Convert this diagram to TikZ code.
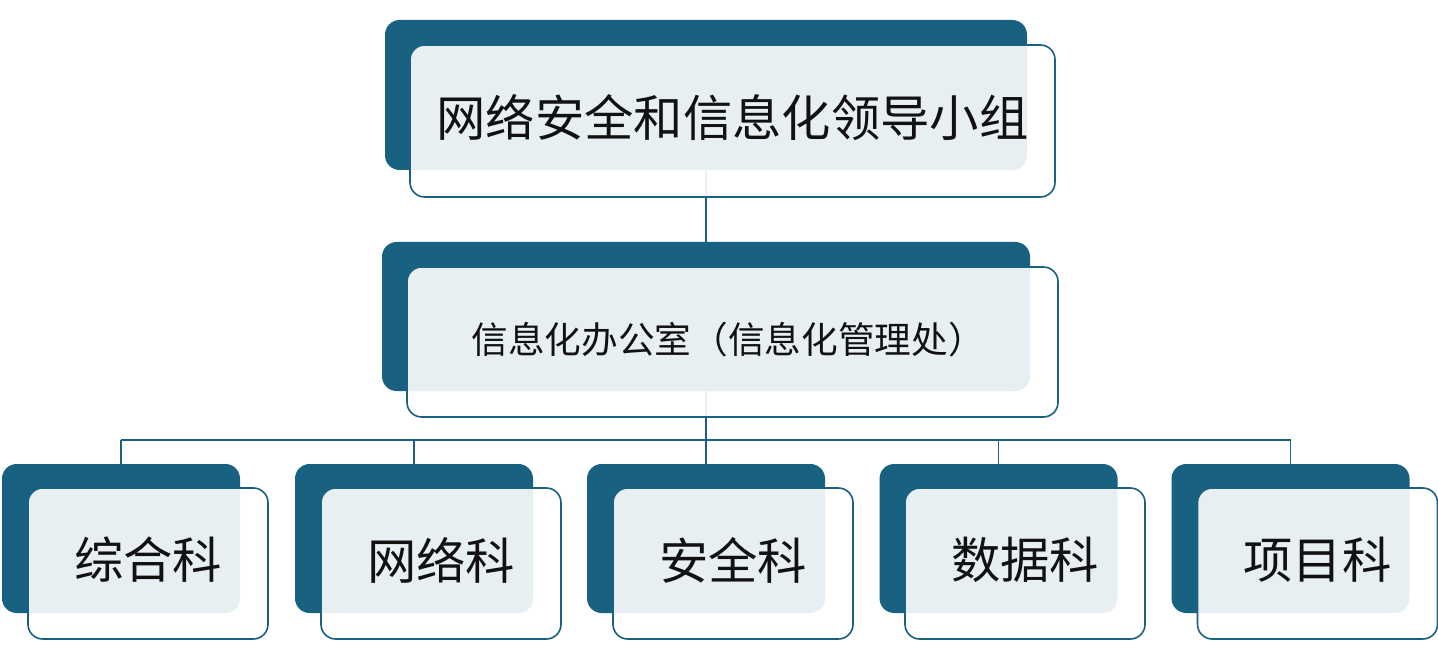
\documentclass[tikz,border=0pt]{standalone}
\usepackage{fontspec}
\newfontfamily\cjk{Noto Sans CJK SC}
\definecolor{tealdark}{RGB}{24,97,128}
\definecolor{txtcol}{RGB}{17,17,17}
\pgfdeclarelayer{bg}
\pgfsetlayers{bg,main}
\begin{document}
\begin{tikzpicture}[x=0.75pt,y=-0.75pt,
  darkbox/.style={fill=tealdark,draw=none,rounded corners=11pt,inner sep=0pt},
  lightbox/.style={fill=white,fill opacity=0.9,draw=tealdark,line width=1.2pt,rounded corners=11pt,inner sep=0pt},
  bigtxt/.style={font=\cjk\fontsize{37pt}{40pt}\selectfont,text=txtcol,inner sep=0pt},
  midtxt/.style={font=\cjk\fontsize{27.5pt}{30pt}\selectfont,text=txtcol,inner sep=0pt},
  conn/.style={draw=tealdark,line width=1.2pt}]
\useasboundingbox (0,0) rectangle (1438,659);
% top
\node[darkbox,minimum width=481.5pt,minimum height=112.5pt] (d0) at (706,95) {};
\node[lightbox,minimum width=483.75pt,minimum height=114pt] (l0) at (732.5,121) {};
\node[bigtxt] (t0) at (732.5,118) {网络安全和信息化领导小组};
% middle
\node[darkbox,minimum width=486pt,minimum height=111.75pt] (d1) at (706,316.5) {};
\node[lightbox,minimum width=488.25pt,minimum height=112.5pt] (l1) at (732.5,342) {};
\node[midtxt] (t1) at (728,340) {信息化办公室（信息化管理处）};
% bottom
\foreach \i/\dx/\lx/\txt in {1/121/148/综合科,2/414/441/网络科,3/706/733/安全科,4/998.5/1025/数据科,5/1290.5/1317.5/项目科}{
  \node[darkbox,minimum width=178.5pt,minimum height=111.75pt] (b\i) at (\dx,538.5) {};
  \node[lightbox,minimum width=180pt,minimum height=113.25pt] (m\i) at (\lx,563.5) {};
  \node[bigtxt] (s\i) at (\lx,560) {\txt};
}
\coordinate (bus) at (706,440);
\begin{pgfonlayer}{bg}
  \draw[conn] (d0.south) -- (d1.north);
  \draw[conn] (d1.south) -- (bus);
  \draw[conn] (bus -| b1.north) -- (bus -| b5.north);
  \foreach \i in {1,...,5}{\draw[conn] (bus -| b\i.north) -- (b\i.north);}
\end{pgfonlayer}
\end{tikzpicture}
\end{document}
